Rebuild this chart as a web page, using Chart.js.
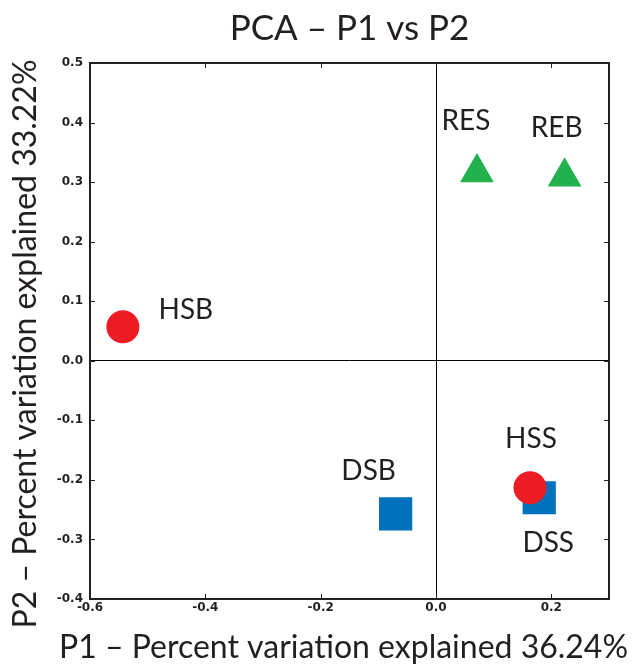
<!DOCTYPE html>
<html>
<head>
<meta charset="utf-8">
<title>PCA – P1 vs P2</title>
<script src="https://cdn.jsdelivr.net/npm/chart.js@4.4.1/dist/chart.umd.min.js"></script>
<style>
  html, body { margin: 0; padding: 0; background: #fff; }
  #wrap { width: 635px; height: 666px; }
</style>
</head>
<body>
<div id="wrap"><canvas id="pca" width="635" height="666"></canvas></div>
<script>
// data (drawing order: DSS before HSS so the circle sits on top)
const sampleNames = ['HSB', 'DSB', 'DSS', 'HSS', 'RES', 'REB'];
const sampleGroups = ['H', 'D', 'D', 'H', 'R', 'R'];
const p1Values = [-0.543, -0.070, 0.179, 0.163, 0.071, 0.223];
const p2Values = [0.057, -0.257, -0.230, -0.213, 0.316, 0.309];
const p1Ticks = [-0.6, -0.4, -0.2, 0.0, 0.2];
const p2Ticks = [0.5, 0.4, 0.3, 0.2, 0.1, 0.0, -0.1, -0.2, -0.3, -0.4];

const chartTitle = 'PCA – P1 vs P2';
const p1Title = 'P1 – Percent variation explained 36.24%';
const p2Title = 'P2 – Percent variation explained 33.22%';

// look of the markers per group
const groupStyle = {
    H: { color: '#ED1C24', shape: 'circle', radius: 16.5 },
    D: { color: '#0071BC', shape: 'rect', radius: 23.5 },
    R: { color: '#22B14C', shape: 'triangle', radius: 19.5 }
};

// where each name sits relative to its marker (px, to text baseline)
const labelOffset = {
    HSB: [63, -8],
    DSB: [-27, -34],
    DSS: [9, 54],
    HSS: [1, -40],
    RES: [-11, -43],
    REB: [-8, -40]
};

const textColor = '#231F20';

// names next to the markers
const pointLabels = {
    id: 'pointLabels',
    afterDatasetsDraw(chart) {
        const ctx = chart.ctx;
        const meta = chart.getDatasetMeta(0);
        ctx.save();
        ctx.font = '28px Lato';
        ctx.fillStyle = textColor;
        ctx.textAlign = 'center';
        ctx.textBaseline = 'alphabetic';
        meta.data.forEach((pt, i) => {
            const off = labelOffset[sampleNames[i]];
            ctx.fillText(sampleNames[i], pt.x + off[0], pt.y + off[1]);
        });
        ctx.restore();
    }
};

// axis titles: wider than the plot, so drawn here without the scale's maxWidth squeeze
const axisTitles = {
    id: 'axisTitles',
    afterDraw(chart) {
        const { ctx, chartArea: a } = chart;
        ctx.save();
        ctx.font = '32px Lato';
        ctx.fillStyle = textColor;
        ctx.textAlign = 'center';
        ctx.textBaseline = 'middle';
        ctx.fillText(p1Title, (a.left + a.right) / 2 - 6, 648);
        ctx.translate(26, (a.top + a.bottom) / 2 + 13);
        ctx.rotate(-Math.PI / 2);
        ctx.fillText(p2Title, 0, 0);
        ctx.restore();
    }
};

// box round the plot with small inward ticks on all four sides
const frame = {
    id: 'frame',
    beforeDatasetsDraw(chart) {
        const { ctx, chartArea: a, scales } = chart;
        const len = 5;
        ctx.save();
        ctx.strokeStyle = textColor;
        ctx.lineWidth = 1;
        ctx.beginPath();
        p1Ticks.forEach(v => {
            const x = Math.round(scales.x.getPixelForValue(v)) + 0.5;
            ctx.moveTo(x, a.bottom); ctx.lineTo(x, a.bottom - len);
            ctx.moveTo(x, a.top); ctx.lineTo(x, a.top + len);
        });
        p2Ticks.forEach(v => {
            const y = Math.round(scales.y.getPixelForValue(v)) + 0.5;
            ctx.moveTo(a.left, y); ctx.lineTo(a.left + len, y);
            ctx.moveTo(a.right, y); ctx.lineTo(a.right - len, y);
        });
        ctx.stroke();
        ctx.lineWidth = 2;
        ctx.strokeRect(a.left, a.top, a.right - a.left, a.bottom - a.top);
        ctx.restore();
    }
};

const zeroLine = {
    display: true,
    drawTicks: false,
    lineWidth: 1,
    color: c => (c.tick && c.tick.value === 0) ? '#000000' : 'rgba(0,0,0,0)'
};
const tickFont = { family: 'DejaVu Sans', size: 12, weight: 'bold' };

new Chart(document.getElementById('pca'), {
    type: 'scatter',
    data: {
        datasets: [{
            data: p1Values.map((x, i) => ({ x: x, y: p2Values[i] })),
            pointStyle: sampleGroups.map(g => groupStyle[g].shape),
            pointRadius: sampleGroups.map(g => groupStyle[g].radius),
            pointHoverRadius: sampleGroups.map(g => groupStyle[g].radius),
            backgroundColor: sampleGroups.map(g => groupStyle[g].color),
            borderWidth: 0,
            pointBorderWidth: 0
        }]
    },
    options: {
        responsive: false,
        animation: false,
        devicePixelRatio: 1,
        layout: { padding: { left: 0, right: 26, top: 0, bottom: 0 } },
        plugins: {
            legend: { display: false },
            tooltip: { enabled: false },
            title: {
                display: true,
                text: chartTitle,
                fullSize: false,
                color: textColor,
                font: { family: 'Lato', size: 35, weight: 'normal' },
                padding: { top: 8, bottom: 13 }
            }
        },
        scales: {
            x: {
                type: 'linear',
                min: -0.6,
                max: 0.3,
                afterBuildTicks: s => { s.ticks = p1Ticks.map(v => ({ value: v })); },
                afterFit: s => { s.height = 67; },
                grid: zeroLine,
                border: { display: false },
                ticks: {
                    color: textColor,
                    font: tickFont,
                    padding: 2,
                    maxRotation: 0,
                    callback: v => v.toFixed(1)
                }
            },
            y: {
                type: 'linear',
                min: -0.4,
                max: 0.5,
                afterBuildTicks: s => { s.ticks = p2Ticks.map(v => ({ value: v })); },
                afterFit: s => { s.width = 90; },
                grid: zeroLine,
                border: { display: false },
                ticks: {
                    color: textColor,
                    font: tickFont,
                    padding: 7,
                    callback: v => v.toFixed(1)
                }
            }
        }
    },
    plugins: [frame, pointLabels, axisTitles]
});
</script>
</body>
</html>
